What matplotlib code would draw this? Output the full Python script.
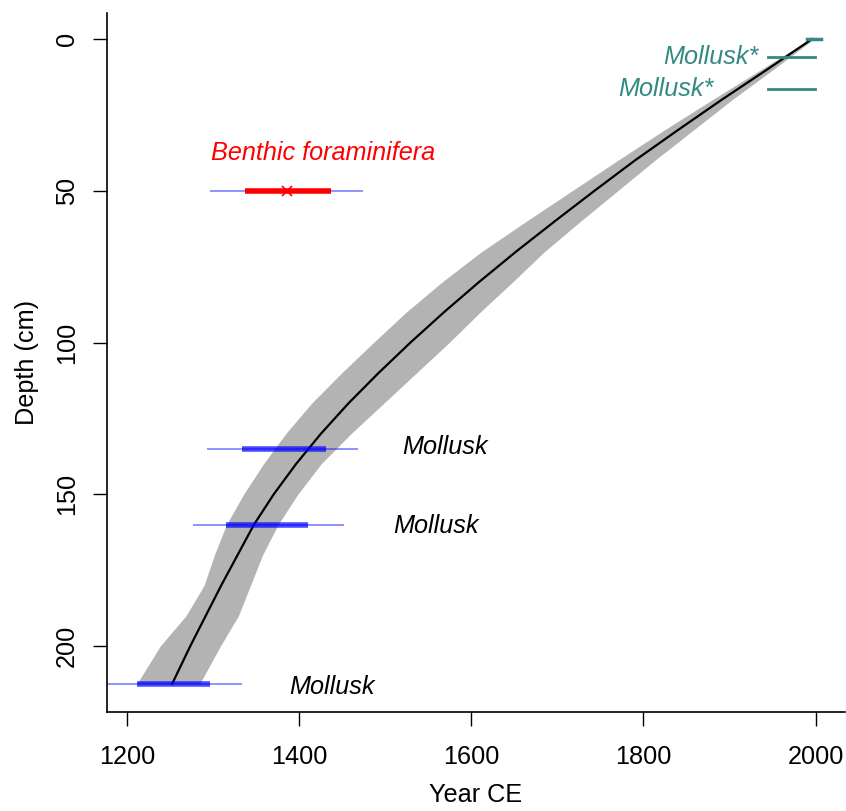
import matplotlib
matplotlib.use("Agg")
import matplotlib.pyplot as plt

plt.rcParams['font.family'] = ['Liberation Sans', 'DejaVu Sans']

# age-depth model
depth = [0, 10, 20, 30, 40, 50, 60, 70, 80, 90, 100, 110, 120, 130, 140, 150, 160, 170, 180, 190, 200, 212.4]
median = [1996, 1944, 1891, 1840, 1790, 1743, 1697, 1652, 1609, 1568, 1529, 1492, 1457, 1425, 1396, 1370, 1347, 1328, 1309, 1291, 1273, 1252]
lower = [1994, 1937, 1880, 1824, 1770, 1717, 1664, 1612, 1566, 1524, 1486, 1449, 1414, 1384, 1358, 1335, 1315, 1301, 1289, 1268, 1238, 1211]
upper = [1998, 1951, 1903, 1858, 1813, 1770, 1727, 1685, 1648, 1610, 1574, 1536, 1498, 1460, 1425, 1398, 1375, 1357, 1343, 1329, 1308, 1284]

# dated samples
samp_depth = [50, 135, 160, 212.4]
samp_label = ["Benthic foraminifera", "Mollusk", "Mollusk", "Mollusk"]
thin_lo = [1296, 1292, 1276, 1160]
thin_hi = [1474, 1468, 1452, 1333]
thick_lo = [1337, 1333, 1314, 1211]
thick_hi = [1437, 1431, 1410, 1296]
label_x = [1297, 1519, 1509, 1388]
label_depth = [37.6, 134.5, 160.3, 213.5]

benthic_point = 1386

# post-bomb samples
bomb_depth = [0, 5.8, 16.4]
bomb_lo = [1990, 1945, 1945]
bomb_hi = [2006, 1999, 1999]
bomb_label_x = [1934, 1881]
bomb_label_depth = [6.0, 16.6]

teal = "#338a82"
FS = 18.2

fig = plt.figure(figsize=(8.46, 8.11), dpi=100)
ax = fig.add_axes([107/846, 1-711.7/811, (845-107)/846, (711.7-13)/811])

ax.fill_betweenx(depth, lower, upper, color="#b3b3b3", lw=0, zorder=1)
ax.plot(median, depth, color="black", lw=1.6, zorder=3)

for i in range(len(samp_depth)):
    ax.plot([thin_lo[i], thin_hi[i]], [samp_depth[i]] * 2, color=(0, 0, 1, 0.5), lw=1.2, zorder=4, solid_capstyle="butt")
    col = "red" if i == 0 else (0, 0, 1, 0.7)
    ax.plot([thick_lo[i], thick_hi[i]], [samp_depth[i]] * 2, color=col, lw=4, zorder=5, solid_capstyle="butt")
    ax.text(label_x[i], label_depth[i], samp_label[i], color="red" if i == 0 else "black",
            fontsize=FS, style="italic", ha="left", va="center")

ax.plot([benthic_point], [samp_depth[0]], marker="x", color="red", ms=7, mew=1.2, zorder=6)

ax.plot([bomb_lo[0], bomb_hi[0]], [bomb_depth[0]] * 2, color=teal, lw=2.5, zorder=6)
for i in (1, 2):
    ax.plot([bomb_lo[i], bomb_hi[i]], [bomb_depth[i]] * 2, color=teal, lw=2, zorder=6)
for i in range(2):
    ax.text(bomb_label_x[i], bomb_label_depth[i], "Mollusk*", color=teal,
            fontsize=FS, style="italic", ha="right", va="center")

ax.set_xlim(1176.2, 2034.3)
ax.set_ylim(221.6, -8.57)
ax.set_xticks([1200, 1400, 1600, 1800, 2000])
ax.set_yticks([0, 50, 100, 150, 200])
for lab in ax.get_yticklabels():
    lab.set_rotation(90)
    lab.set_va("center")
ax.tick_params(labelsize=FS, length=10, width=1, direction="out", pad=14)
ax.tick_params(axis="y", pad=10)
for s in ("top", "right"):
    ax.spines[s].set_visible(False)
for s in ("left", "bottom"):
    ax.spines[s].set_linewidth(1.2)
ax.set_xlabel("Year CE", fontsize=FS, labelpad=10)
ax.set_ylabel("Depth (cm)", fontsize=FS, labelpad=12)

fig.savefig("out.png", dpi=100)
